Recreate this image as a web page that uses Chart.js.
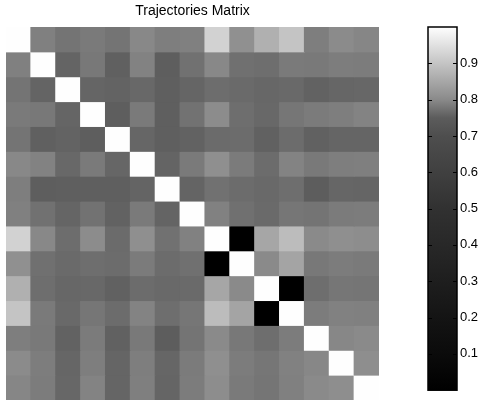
<!DOCTYPE html>
<html>
<head>
<meta charset="utf-8">
<script src="https://cdn.jsdelivr.net/npm/chart.js@4/dist/chart.umd.min.js"></script>
<style>
  html, body { margin: 0; padding: 0; background: #fff; }
  #wrap { position: relative; width: 481px; height: 401px; }
  #wrap canvas { position: absolute; left: 0; top: 0; }
</style>
</head>
<body>
<div id="wrap">
  <canvas id="matrix" width="481" height="401"></canvas>
  <canvas id="colorbar" width="481" height="401"></canvas>
</div>
<script>
// trajectory ids (rows / columns of the matrix)
var trajectories = ['1', '2', '3', '4', '5', '6', '7', '8', '9', '10', '11', '12', '13', '14', '15'];

// similarity values, one row per trajectory
var similarity = [
    [1.000, 0.789, 0.776, 0.783, 0.776, 0.798, 0.787, 0.789, 0.924, 0.810, 0.866, 0.900, 0.787, 0.802, 0.796],
    [0.789, 1.000, 0.759, 0.780, 0.754, 0.791, 0.752, 0.773, 0.798, 0.772, 0.770, 0.783, 0.782, 0.786, 0.785],
    [0.776, 0.759, 1.000, 0.760, 0.758, 0.763, 0.753, 0.760, 0.768, 0.765, 0.762, 0.764, 0.757, 0.761, 0.762],
    [0.783, 0.780, 0.760, 1.000, 0.752, 0.783, 0.753, 0.774, 0.803, 0.770, 0.763, 0.778, 0.784, 0.787, 0.792],
    [0.776, 0.754, 0.758, 0.752, 1.000, 0.761, 0.753, 0.757, 0.766, 0.767, 0.755, 0.767, 0.755, 0.760, 0.760],
    [0.798, 0.791, 0.763, 0.783, 0.761, 1.000, 0.759, 0.783, 0.809, 0.784, 0.767, 0.792, 0.782, 0.787, 0.788],
    [0.787, 0.752, 0.753, 0.753, 0.753, 0.759, 1.000, 0.759, 0.773, 0.767, 0.764, 0.770, 0.751, 0.761, 0.760],
    [0.789, 0.773, 0.760, 0.774, 0.757, 0.783, 0.759, 1.000, 0.790, 0.772, 0.765, 0.778, 0.776, 0.784, 0.785],
    [0.924, 0.798, 0.768, 0.803, 0.766, 0.809, 0.773, 0.790, 1.000, 0.000, 0.848, 0.886, 0.800, 0.809, 0.805],
    [0.810, 0.772, 0.765, 0.770, 0.767, 0.784, 0.767, 0.772, 0.000, 1.000, 0.800, 0.845, 0.780, 0.785, 0.783],
    [0.866, 0.770, 0.762, 0.763, 0.755, 0.767, 0.764, 0.765, 0.848, 0.800, 1.000, 0.000, 0.770, 0.778, 0.777],
    [0.900, 0.783, 0.764, 0.778, 0.767, 0.792, 0.770, 0.778, 0.886, 0.845, 0.000, 1.000, 0.785, 0.790, 0.789],
    [0.787, 0.782, 0.757, 0.784, 0.755, 0.782, 0.751, 0.776, 0.800, 0.780, 0.770, 0.785, 1.000, 0.797, 0.800],
    [0.802, 0.786, 0.761, 0.787, 0.760, 0.787, 0.761, 0.784, 0.809, 0.785, 0.778, 0.790, 0.797, 1.000, 0.807],
    [0.796, 0.785, 0.762, 0.792, 0.760, 0.788, 0.760, 0.785, 0.805, 0.783, 0.777, 0.789, 0.800, 0.807, 1.000]
];

// colour scale range and its tick labels
var scaleMin = 0;
var scaleMax = 1;
var scaleTicks = [0.1, 0.2, 0.3, 0.4, 0.5, 0.6, 0.7, 0.8, 0.9];

// grey colormap (value -> grey level)
var cmapStops = [0, 0.1, 0.2, 0.3, 0.4, 0.5, 0.6, 0.7, 0.75, 0.8, 0.9, 1];
var cmapGreys = [0, 11, 20, 30, 40, 49, 64, 78, 92, 138, 196, 254];

function grey(v) {
    var g = cmapGreys[cmapGreys.length - 1];
    for (var i = 1; i < cmapStops.length; i++) {
        if (v <= cmapStops[i]) {
            var t = (v - cmapStops[i - 1]) / (cmapStops[i] - cmapStops[i - 1]);
            g = cmapGreys[i - 1] + t * (cmapGreys[i] - cmapGreys[i - 1]);
            break;
        }
    }
    g = Math.round(Math.max(0, Math.min(255, g)));
    return 'rgb(' + g + ',' + g + ',' + g + ')';
}

var FONT = '"Liberation Sans", Arial, Helvetica, sans-serif';
Chart.defaults.font.family = FONT;
Chart.defaults.color = '#000';

// one floating-bar dataset per matrix row
var rowSets = similarity.map(function (row, r) {
    return {
        label: trajectories[r],
        data: row.map(function () { return [r, r + 1]; }),
        backgroundColor: row.map(grey),
        borderWidth: 0,
        inflateAmount: 0.5,
        grouped: false,
        barPercentage: 1,
        categoryPercentage: 1
    };
});

new Chart(document.getElementById('matrix'), {
    type: 'bar',
    data: { labels: trajectories, datasets: rowSets },
    options: {
        responsive: false,
        animation: false,
        layout: { padding: { left: 6, right: 102, top: 0, bottom: 1 } },
        plugins: {
            legend: { display: false },
            tooltip: { enabled: false },
            title: {
                display: true,
                text: 'Trajectories Matrix',
                font: { size: 14, weight: 'normal' },
                padding: { top: 2.5, bottom: 7.7 },
                color: '#000'
            }
        },
        scales: {
            x: { display: false },
            y: { display: false, min: 0, max: trajectories.length, reverse: true }
        }
    }
});

// frame + inward ticks on both sides of the colour bar
var colorbarFrame = {
    id: 'colorbarFrame',
    afterDatasetsDraw: function (chart) {
        var ctx = chart.ctx, a = chart.chartArea, y = chart.scales.y;
        ctx.save();
        ctx.strokeStyle = '#000';
        ctx.lineWidth = 1;
        scaleTicks.forEach(function (v) {
            var py = Math.round(y.getPixelForValue(v)) + 0.5;
            ctx.beginPath();
            ctx.moveTo(a.left, py);
            ctx.lineTo(a.left + 4, py);
            ctx.moveTo(a.right - 4, py);
            ctx.lineTo(a.right, py);
            ctx.stroke();
        });
        ctx.lineWidth = 1.5;
        ctx.strokeRect(a.left, a.top, a.right - a.left, a.bottom - a.top);
        ctx.restore();
    }
};

new Chart(document.getElementById('colorbar'), {
    type: 'bar',
    data: {
        labels: ['scale'],
        datasets: [{
            data: [[scaleMin, scaleMax]],
            borderWidth: 0,
            barPercentage: 1,
            categoryPercentage: 1,
            backgroundColor: function (c) {
                var chart = c.chart;
                if (!chart.chartArea) return '#888';
                var y = chart.scales.y;
                var y0 = y.getPixelForValue(scaleMin), y1 = y.getPixelForValue(scaleMax);
                var grad = chart.ctx.createLinearGradient(0, y0, 0, y1);
                cmapStops.forEach(function (s) {
                    grad.addColorStop((s - scaleMin) / (scaleMax - scaleMin), grey(s));
                });
                return grad;
            }
        }]
    },
    options: {
        responsive: false,
        animation: false,
        layout: { padding: { left: 428, right: 0, top: 27, bottom: 4 } },
        plugins: { legend: { display: false }, tooltip: { enabled: false } },
        scales: {
            x: { display: false },
            y: {
                position: 'right',
                min: scaleMin,
                max: scaleMax,
                afterFit: function (s) { s.width = 24; },
                afterBuildTicks: function (s) {
                    s.ticks = scaleTicks.map(function (v) { return { value: v }; });
                },
                grid: { display: false, drawTicks: false },
                border: { display: false },
                ticks: {
                    padding: 3,
                    font: { size: 13 },
                    color: '#000',
                    callback: function (v) { return v.toFixed(1); }
                }
            }
        }
    },
    plugins: [colorbarFrame]
});
</script>
</body>
</html>
